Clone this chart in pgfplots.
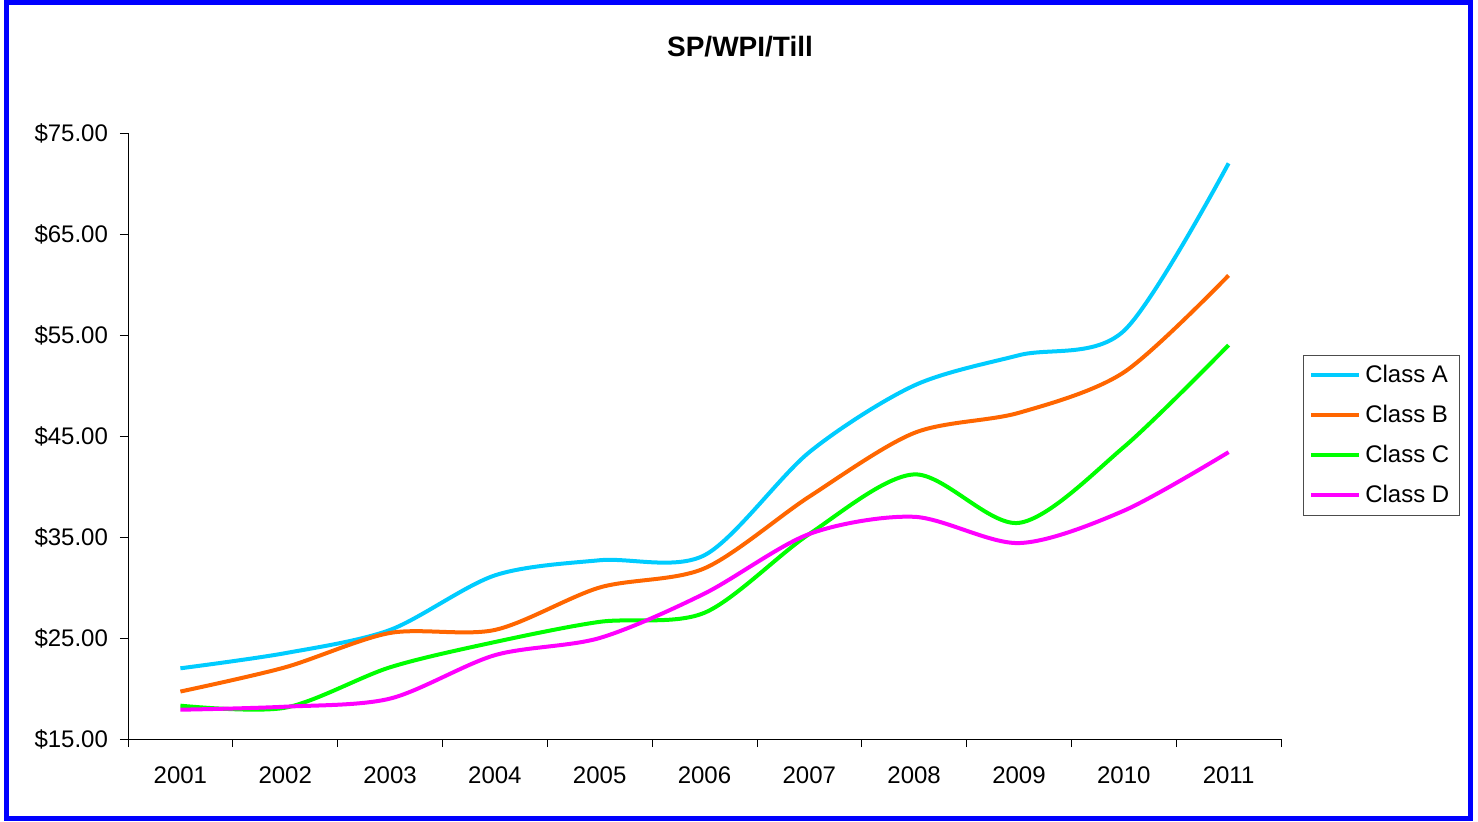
\documentclass[border=0pt]{standalone}
\usepackage{fontspec}
\setmainfont{Liberation Sans}
\usepackage{pgfplots}
\pgfplotsset{compat=1.18}

\definecolor{clsA}{HTML}{00CCFF}
\definecolor{clsB}{HTML}{FF6600}
\definecolor{clsC}{HTML}{00FF00}
\definecolor{clsD}{HTML}{FF00FF}
\definecolor{frame}{HTML}{0000FF}

\begin{document}
\begin{tikzpicture}
  \useasboundingbox (0pt,0pt) rectangle (739pt,410.5pt);
  \draw[frame, line width=2.5pt] (3.25pt,1.25pt) rectangle (735pt,409.25pt);
  \node[font=\fontsize{14}{16}\selectfont\bfseries] at (370pt,387pt) {SP/WPI/Till};
  \begin{axis}[
    at={(64pt,41pt)}, anchor=south west,
    scale only axis, width=576.5pt, height=303pt,
    xmin=-0.5, xmax=10.5, ymin=15, ymax=75,
    axis x line*=bottom, axis y line*=left,
    tick align=outside, major tick length=4pt,
    xtick={-0.5,0.5,1.5,2.5,3.5,4.5,5.5,6.5,7.5,8.5,9.5,10.5},
    xticklabels={2001,2002,2003,2004,2005,2006,2007,2008,2009,2010,2011,{}},
    xticklabel style={xshift=26.2pt, yshift=-6.5pt},
    ytick={15,25,35,45,55,65,75},
    yticklabels={\$15.00,\$25.00,\$35.00,\$45.00,\$55.00,\$65.00,\$75.00},
    yticklabel style={xshift=-2.5pt},
    ticklabel style={font=\fontsize{12}{14}\selectfont},
    tick style={black, thin},
    axis line style={black, thin},
    legend style={at={(1.019,0.634)}, anchor=north west, draw=black!70,
      font=\fontsize{12}{14}\selectfont, row sep=5.8pt, inner sep=3pt},
    legend cell align=left,
    legend image code/.code={\draw[#1] (0pt,0pt) -- (24pt,0pt);},
    every axis plot/.append style={line width=2pt, smooth, tension=0.5},
  ]
    \addplot[clsA] coordinates {(0,22.0) (1,23.5) (2,25.8) (3,31.2) (4,32.7) (5,33.2) (6,43.4) (7,50.0) (8,53.0) (9,55.4) (10,72.0)};
    \addlegendentry{Class A}
    \addplot[clsB] coordinates {(0,19.7) (1,22.1) (2,25.5) (3,25.8) (4,30.0) (5,31.9) (6,39.0) (7,45.3) (8,47.3) (9,51.3) (10,60.9)};
    \addlegendentry{Class B}
    \addplot[clsC] coordinates {(0,18.3) (1,18.1) (2,22.1) (3,24.6) (4,26.6) (5,27.5) (6,35.3) (7,41.2) (8,36.4) (9,43.9) (10,54.0)};
    \addlegendentry{Class C}
    \addplot[clsD] coordinates {(0,17.9) (1,18.2) (2,19.0) (3,23.3) (4,25.0) (5,29.4) (6,35.3) (7,37.0) (8,34.4) (9,37.6) (10,43.4)};
    \addlegendentry{Class D}
  \end{axis}
\end{tikzpicture}
\end{document}
